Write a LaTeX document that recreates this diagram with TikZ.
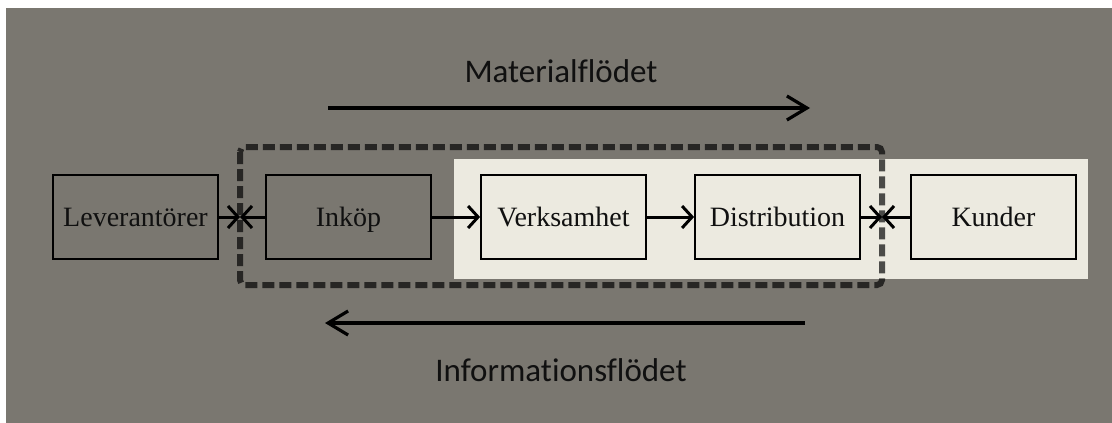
\documentclass[tikz,border=0pt]{standalone}
\usepackage{fontspec}
\setmainfont{Liberation Serif}
\newfontfamily\flowfont[Ligatures=NoCommon]{Carlito}
\usetikzlibrary{arrows.meta}
\definecolor{bggrey}{HTML}{7A7770}
\definecolor{pale}{HTML}{ECEAE0}
\definecolor{ink}{HTML}{101010}
\tikzset{
  x=1pt, y=-1pt,
  stage/.style={draw=black, line width=1.8pt, minimum width=165pt, minimum height=84pt,
    inner sep=0pt, text height=20pt, text depth=2pt,
    font=\fontsize{28}{30}\selectfont, text=ink},
  link/.style={line width=3pt, -{Straight Barb[length=10pt,width=22pt,line width=3pt]}},
  flow/.style={line width=3.2pt, -{Straight Barb[length=20pt,width=24pt,line width=3.2pt]}},
  flowlabel/.style={font=\flowfont\fontsize{33}{36}\selectfont, text=ink},
  frame/.style={draw=black, draw opacity=0.68, line width=6pt,
    dash pattern=on 12pt off 5pt, rounded corners=5pt}
}
\begin{document}
\begin{tikzpicture}
  % page and background
  \fill[white] (0,0) rectangle (1112,423);
  \useasboundingbox (0,0) rectangle (1112,423);
  \fill[bggrey] (6,8) rectangle (1112,423);
  % light area behind the downstream stages
  \fill[pale] (454,159) rectangle (1088,279);

  % stages
  \node[stage] (lev) at (135.5,217) {Leverantörer};
  \node[stage] (ink) at (348.5,217) {Inköp};
  \node[stage] (ver) at (563.5,217) {Verksamhet};
  \node[stage] (dis) at (777.5,217) {Distribution};
  \node[stage] (kun) at (993.5,217) {Kunder};

  % company boundary
  \draw[frame] (240,147) rectangle (882,285);
  \coordinate (bl) at (240,217);
  \coordinate (br) at (882,217);

  % links between stages
  \draw[link] (lev.east) -- (bl);
  \draw[link] (ink.west) -- (bl);
  \draw[link] (ink.east) -- (ver.west);
  \draw[link] (ver.east) -- (dis.west);
  \draw[link] (dis.east) -- (br);
  \draw[link] (kun.west) -- (br);

  % material and information flows
  \coordinate (m0) at (328,108);
  \coordinate (m1) at (810,108);
  \coordinate (i0) at (805,323);
  \coordinate (i1) at (325,323);
  \draw[flow] (m0) -- (m1);
  \draw[flow] (i0) -- (i1);
  \node[flowlabel] (mat) at (561,71) {Materialflödet};
  \node[flowlabel] (inf) at (561,370) {Informationsflödet};
\end{tikzpicture}
\end{document}
